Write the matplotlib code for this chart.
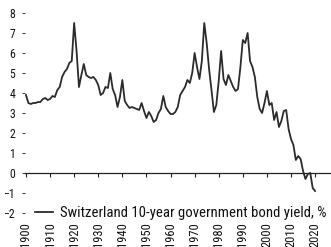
import numpy as np
import matplotlib
matplotlib.use("Agg")
import matplotlib.pyplot as plt

plt.rcParams['font.family'] = ['Roboto Condensed', 'DejaVu Sans']

years = np.arange(1900, 2021)
yields = [
    3.9, 3.5, 3.45, 3.5, 3.5, 3.55, 3.55, 3.7, 3.75, 3.65,      # 1900s
    3.7, 3.85, 3.8, 4.15, 4.3, 4.8, 5.05, 5.2, 5.5, 5.6,        # 1910s
    7.5, 6.1, 4.3, 4.9, 5.45, 4.9, 4.8, 4.75, 4.8, 4.65,        # 1920s
    4.4, 3.9, 4.0, 4.3, 4.25, 5.0, 4.2, 3.9, 3.3, 3.8,          # 1930s
    4.65, 3.6, 3.4, 3.25, 3.3, 3.25, 3.2, 3.15, 3.5, 3.1,       # 1940s
    2.75, 3.05, 2.85, 2.55, 2.65, 3.0, 3.2, 3.85, 3.3, 3.1,     # 1950s
    2.95, 2.95, 3.05, 3.3, 3.9, 4.1, 4.3, 4.65, 4.5, 5.0,       # 1960s
    6.0, 5.3, 4.7, 5.6, 7.5, 6.5, 5.2, 4.15, 3.05, 3.4,         # 1970s
    4.6, 6.1, 4.7, 4.4, 4.9, 4.6, 4.3, 4.1, 4.2, 5.3,           # 1980s
    6.65, 6.5, 7.0, 5.6, 5.3, 4.8, 3.8, 3.2, 3.0, 3.5,          # 1990s
    4.1, 3.4, 3.5, 2.65, 3.05, 2.3, 2.6, 3.1, 3.15, 2.2,        # 2000s
    1.7, 1.4, 0.65, 0.85, 0.7, 0.1, -0.3, -0.05, 0.0, -0.75,    # 2010s
    -0.9,                                                       # 2020
]
yticks = list(range(-2, 9))
xticks = list(range(1900, 2021, 10))
xlabels = [str(x) for x in xticks]
label = 'Switzerland 10-year government bond yield, %'

fig = plt.figure(figsize=(3.31, 2.47), dpi=100)
ax = fig.add_axes([25 / 331, 34 / 247, 306 / 331, 200 / 247])

ax.plot(years, yields, color='#2b2b2b', lw=1.3, label=label)

ax.set_xlim(1899.6, 2026.6)
ax.set_ylim(-2, 8)
ax.set_yticks(yticks)
ax.set_yticklabels([str(v).replace('-', '\u2212') for v in yticks])
ax.set_xticks(xticks, labels=xlabels, rotation=90, ha='center', va='top')

# the top spine is used as the zero line (ticks hang down from it),
# the decade labels stay at the bottom of the plot
for s in ['bottom', 'right', 'left']:
    ax.spines[s].set_visible(False)
ax.spines['top'].set_position(('data', 0))
ax.spines['top'].set_color('#222222')
ax.spines['top'].set_linewidth(0.9)

ax.tick_params(axis='x', top=True, labeltop=False, bottom=False, labelbottom=True,
               direction='in', length=3, width=0.8, color='#222222',
               pad=6.5, labelsize=9, labelcolor='#111111')
ax.tick_params(axis='y', direction='out', length=2.2, width=0.8, color='#444444',
               labelsize=8.5, pad=5, labelcolor='#111111')
for t in ax.get_xticklabels():
    t.set_rotation(90)

ax.legend(loc='center left', bbox_to_anchor=(0.033, 0.0), frameon=False,
          borderpad=0, borderaxespad=0, handlelength=1.2, handletextpad=0.5,
          fontsize=10.6, labelcolor='#111111')

fig.savefig('out.png', dpi=100)
